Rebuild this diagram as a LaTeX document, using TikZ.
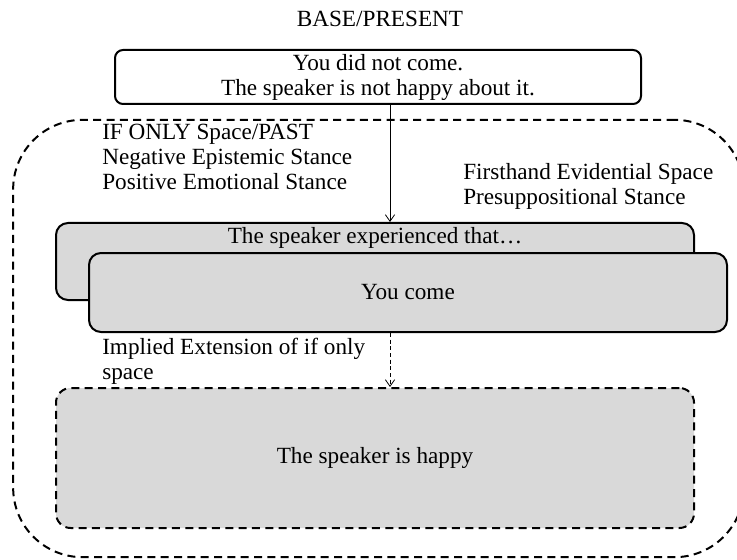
\documentclass[tikz,border=0pt]{standalone}
\usepackage{fontspec}
\setmainfont{Liberation Serif}
\usetikzlibrary{arrows.meta}

\begin{document}
\begin{tikzpicture}[x=0.75pt,y=-0.75pt,
    every node/.style={font=\fontsize{17.4}{18.75}\selectfont},
    spacebox/.style={draw,line width=1.5pt,rounded corners=6pt,inner sep=0pt},
    graybox/.style={spacebox,rounded corners=9pt,fill=gray!30},
    dashbox/.style={dash pattern=on 6pt off 4pt},
    caption/.style={align=left,anchor=north west,inner sep=0pt},
    link/.style={-{Straight Barb[length=5pt,width=7pt]},line width=0.6pt}]
  \clip (0,0) rectangle (737,559);

  % the if-only space round everything
  \node (ifspace) [spacebox,dashbox,rounded corners=52pt,minimum width=548pt,minimum height=328pt] at (378.5,338.5) {};

  \node (base) at (380,19) {BASE/PRESENT};
  \node (now) [spacebox,align=center,minimum width=394.5pt,minimum height=40.5pt] at (378,77) {You did not come.\\The speaker is not happy about it.};

  \node (ifonly) [caption] at (102,124) {IF ONLY Space/PAST\\Negative Epistemic Stance\\Positive Emotional Stance};
  \node (firsthand) [caption] at (463,163) {Firsthand Evidential Space\\Presuppositional Stance};

  \node (exp) [graybox,minimum width=478.5pt,minimum height=57.75pt,
    label={[anchor=north,inner sep=0pt,yshift=-3.75pt]north:The speaker experienced that…}] at (375,261.5) {};
  \node (come) [graybox,minimum width=478.5pt,minimum height=59.25pt] at (408,292.5) {You come};

  \node (implied) [caption] at (102,338) {Implied Extension of if only\\space};
  \node (happy) [graybox,dashbox,rounded corners=11pt,minimum width=478.5pt,minimum height=105pt] at (375,458) {The speaker is happy};

  \coordinate (mid) at (390,0);
  \draw[link] (now.south -| mid) -- (exp.north -| mid);
  \draw[link,dash pattern=on 3pt off 2pt] (come.south -| mid) -- (happy.north -| mid);
\end{tikzpicture}
\end{document}
